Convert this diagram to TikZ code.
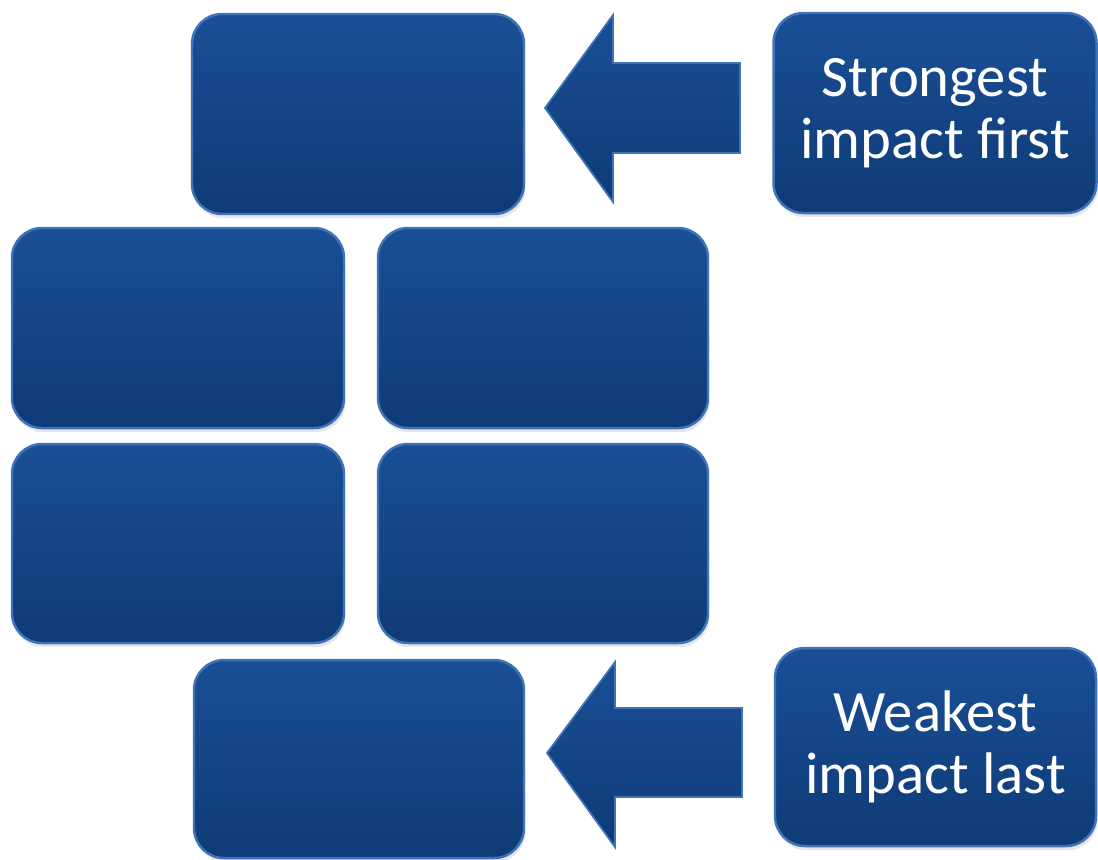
\documentclass[tikz,border=0pt]{standalone}
\usepackage{fontspec}
\setmainfont{Carlito}
\usetikzlibrary{shadows}

\definecolor{boxtop}{HTML}{1A4F96}
\definecolor{boxbot}{HTML}{0E3B76}
\definecolor{boxrim}{HTML}{3F72B6}

\begin{document}
\begin{tikzpicture} [align=center,
  tile/.style={rectangle, rounded corners=0.3cm, top color=boxtop, bottom color=boxbot,
    draw=boxrim, line width=0.7pt, inner sep=0pt,
    drop shadow={opacity=0.2, shadow xshift=0.4pt, shadow yshift=-1.2pt}},
  blockarrow/.style={top color=boxtop, bottom color=boxbot, draw=boxrim, line width=0.5pt, line join=miter},
  note/.style={text=white, font=\fontsize{16.7}{17.8}\selectfont}]
\useasboundingbox (0,0) rectangle (10.98,-8.59);

\path (3.58,-1.14) node[tile, minimum width=3.32cm, minimum height=2.00cm] (top) {}
(1.78,-3.28) node[tile, minimum width=3.32cm, minimum height=2.00cm] (midl) {}
(5.43,-3.28) node[tile, minimum width=3.30cm, minimum height=2.00cm] (midr) {}
(1.78,-5.435) node[tile, minimum width=3.32cm, minimum height=1.99cm] (lowl) {}
(5.43,-5.435) node[tile, minimum width=3.30cm, minimum height=1.99cm] (lowr) {}
(3.59,-7.59) node[tile, minimum width=3.30cm, minimum height=1.98cm] (bot) {}

(9.35,-1.13) node[tile, note, minimum width=3.23cm, minimum height=2.00cm] (strong) {Strongest\\impact first}
(9.355,-7.47) node[tile, note, minimum width=3.21cm, minimum height=1.98cm] (weak) {Weakest\\impact last};

% block arrows from the notes to the boxes
\draw[blockarrow] (5.45,-1.08) -- (6.13,-0.15) -- (6.13,-0.63) -- (7.40,-0.63)
  -- (7.40,-1.53) -- (6.13,-1.53) -- (6.13,-2.02) -- cycle;
\draw[blockarrow] (5.47,-7.53) -- (6.15,-6.62) -- (6.15,-7.08) -- (7.42,-7.08)
  -- (7.42,-7.97) -- (6.15,-7.97) -- (6.15,-8.47) -- cycle;
\end{tikzpicture}
\end{document}
